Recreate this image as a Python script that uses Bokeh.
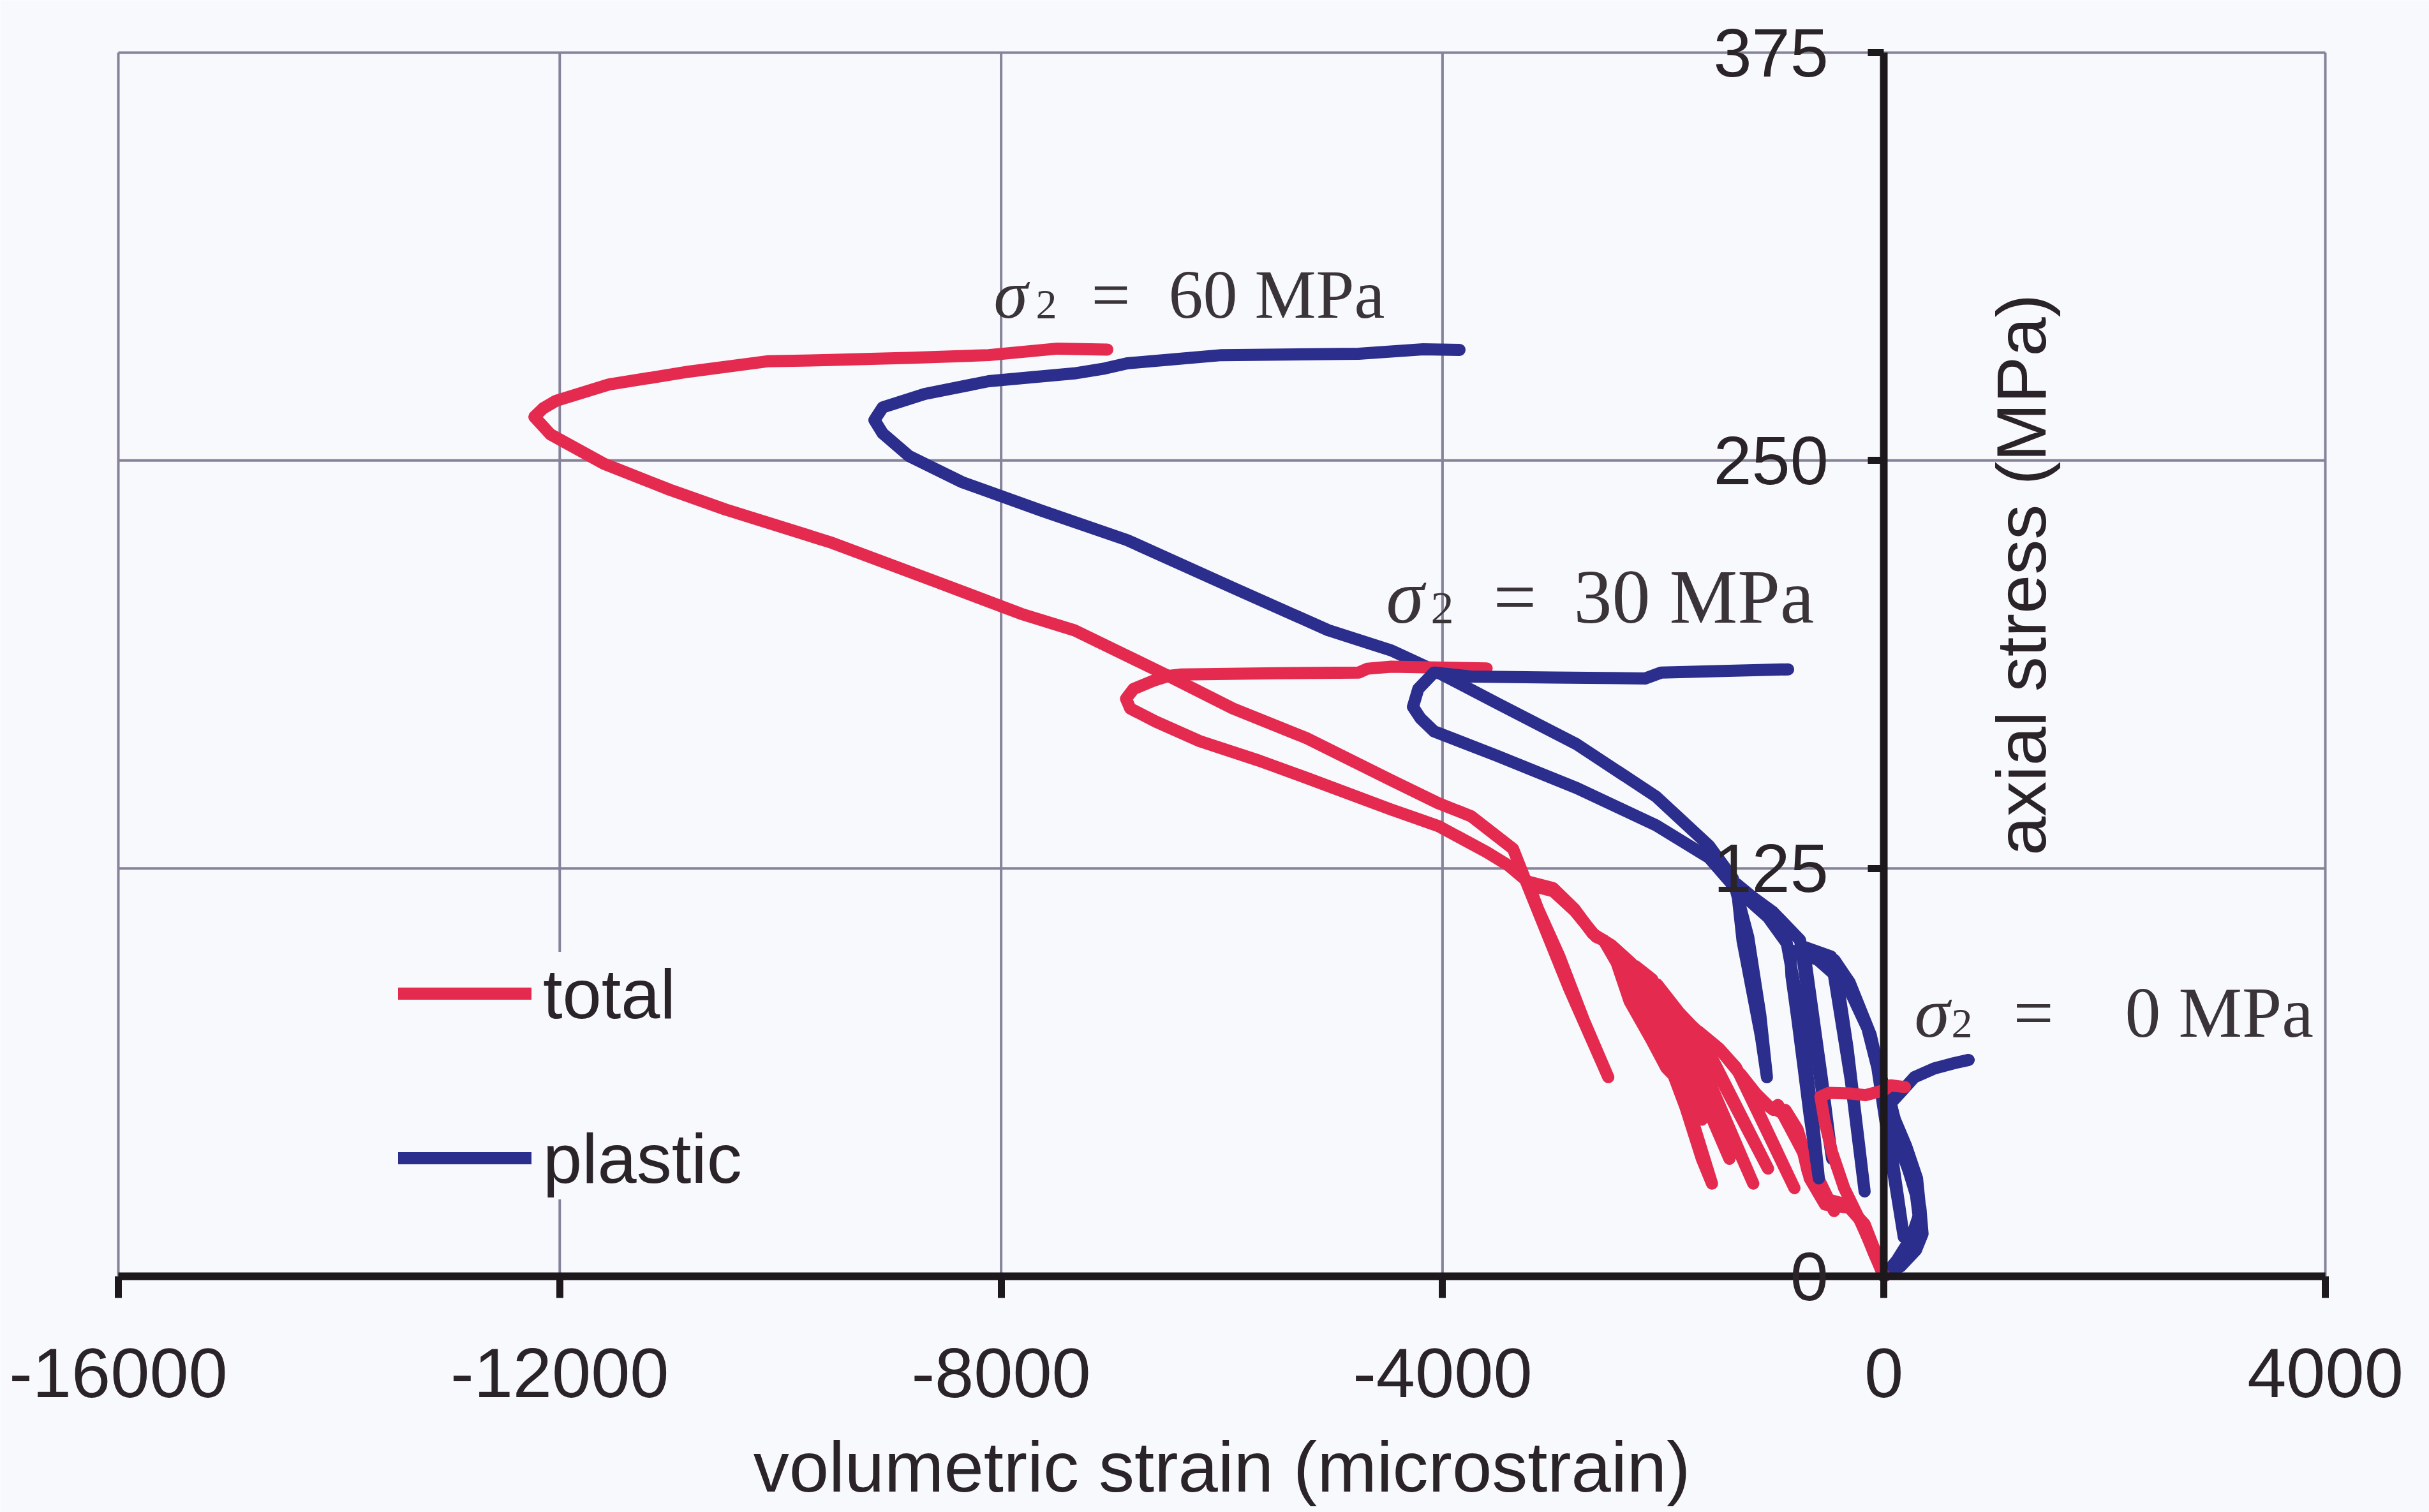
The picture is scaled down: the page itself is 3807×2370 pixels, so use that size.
from math import pi

from bokeh.plotting import figure
from bokeh.models import Range1d, FixedTicker, Label, Legend, LegendItem, LinearAxis
from bokeh.embed import file_html
from bokeh.resources import INLINE

# ---- axes ---------------------------------------------------------------
x_ticks = [-16000, -12000, -8000, -4000, 0, 4000]
x_tick_labels = ["-16000", "-12000", "-8000", "-4000", "0", "4000"]
y_ticks = [0, 125, 250, 375]
y_tick_labels = ["0", "125", "250", "375"]

x_title = "volumetric strain (microstrain)"
y_title = "axial stress (MPa)"

# ---- total volumetric strain, sigma2 = 60 MPa ---------------------------
total_60_x = [0, -60, -175, -313, -534, -673, -728, -783, -894,
              -451, -960,
              -1004, -1115, -1281, -1475, -1650, -1834,
              -1184, -1880,
              -2056,
              -1400, -2090,
              -2249,
              -1650, -2280,
              -2471,
              -2305, -2111, -1973, -1834, -1700, -1558,
              -1650, -1800, -2000, -2250, -2540,
              -2609, -2803, -2996, -3218,
              -3135, -2941, -2720, -2498, -2850, -3250,
              -3361, -3742, -4040, -4465, -5238, -5900, -6485, -7338, -7818,
              -8600, -9553, -10500, -11000, -11600, -12084, -12230,
              -12150, -12034, -11554, -10837, -10120, -9553, -8800, -8113,
              -7489, -7038]
total_60_y = [0, 6, 16, 21, 22, 30, 39, 45, 51,
              20, 52.5,
              51, 54, 61, 69, 74, 79.5,
              28.4, 81.5,
              89,
              36, 90,
              94,
              48, 95,
              101,
              84.3, 72.7, 63.9, 59, 44, 28.4,
              36, 52, 70, 86, 103,
              104, 112, 118, 120,
              112.6, 98, 78.5, 61, 88, 121.5,
              131, 141, 145, 152, 165, 174, 184, 198, 203,
              213, 225, 235, 241, 249, 258, 263.4,
              266, 268.3, 273.3, 277.2, 280.4, 280.8, 281.5, 282.3,
              284.3, 284]

# ---- plastic volumetric strain, sigma2 = 60 MPa -------------------------
plastic_60_x = [0, 150, 290, 350, 330, 250, 140, 70, -40, -120, -310, -450,
                -330, -175, -300, -480,
                -728,
                -560, -470, -620, -760,
                -1004, -1198, -1337,
                -1281, -1198, -1115, -1060, -1120, -1230, -1370,
                -1586, -2065, -2782, -3505, -4078, -4465, -5037, -5899, -6858,
                -7633, -8356, -8836, -9073, -9148, -9073, -8692, -8113, -7338,
                -7061, -6858, -6003, -4760, -4176, -3846]
plastic_60_y = [0, 3, 8, 13, 21, 30, 40, 52, 62, 74, 90, 97,
                70, 26, 60, 98,
                101,
                60, 36, 70, 103,
                111.6, 116.4, 120.3,
                102.8, 88.2, 73.6, 61, 80, 104, 122,
                132, 147, 163, 175.6, 185.7, 191.8, 198, 211, 225.6,
                234.6, 243.4, 251.4, 258.3, 262.4, 266.3, 270.4, 274.3, 276.7,
                278.2, 279.8, 282.3, 282.7, 284.1, 283.9]

# ---- total volumetric strain, sigma2 = 30 MPa ---------------------------
total_30_x = [0, -90, -210, -340, -560, -690, -760, -860, -1040, -1160, -1300,
              -811, -1340,
              -1500, -1680,
              -1050, -1720,
              -1860, -2056,
              -1450, -2100,
              -2249,
              -1760, -2290,
              -2471, -2640, -2803, -3000, -3230, -3407, -3600, -4040, -4462,
              -5238, -5661, -6200, -6600, -6830, -6868, -6800, -6620, -6483,
              -6379, -5500, -4760, -4680, -4465, -3600]
total_30_y = [0, 7, 17, 22, 24, 32, 42, 49, 52, 56, 62,
              27, 64,
              70, 75,
              33, 76,
              81, 89.5,
              42, 91,
              95,
              55, 96,
              101.5, 105, 112.5, 119, 121, 126, 130, 138, 143,
              152.8, 158, 164, 170, 174, 177, 180, 182.5, 184,
              184.4, 184.8, 185, 186.2, 186.8, 186.3]

# ---- plastic volumetric strain, sigma2 = 30 MPa -------------------------
plastic_30_x = [0, 130, 270, 320, 290, 200, 110, 40, -40,
                60, 180, 70, -60,
                -150, -330, -600, -850,
                -838, -783, -728, -673, -590, -650, -760, -880,
                -1050, -1250, -1394, -1586, -2065, -2782, -3505, -4077, -4200,
                -4268, -4220, -4078, -3742, -3000, -2164, -2019, -868]
plastic_30_y = [0, 4, 10, 17, 25, 35, 45, 55, 62,
                40, 12, 35, 64,
                76, 89, 97, 100,
                92, 78.5, 64, 49.3, 30, 50, 80, 102,
                110, 116, 120.8, 128.3, 138.2, 149.6, 159.5, 167, 171,
                174.5, 180, 185, 183.8, 183.5, 183.2, 185, 186]

# ---- sigma2 = 0 MPa -----------------------------------------------------
total_0_x = [0, -110, -230, -360, -470, -540, -575, -500, -300, -168, 0, 60, 190]
total_0_y = [0, 9, 18, 27, 38, 48, 55, 56.2, 56, 55.5, 57, 58.5, 58]

plastic_0_x = [0, 120, 250, 330, 300, 200, 100, 60, 143, 276, 456, 635, 768]
plastic_0_y = [0, 5, 12, 20, 30, 40, 48, 53, 56, 61, 63.7, 65.3, 66.3]

# ---- styling ------------------------------------------------------------
BG = "#f8f9fd"
GRID = "#85829a"
AXIS = "#1d181c"
TEXT = "#2a2428"
NOTE = "#3a3438"
RED = "#e42a4f"
BLUE = "#2b2e8c"
SANS = "Liberation Sans"
SERIF = "Liberation Serif"
LW = 19

W, H = 3807, 2370
# plot box inside the page, in pixels: left, right, top, bottom
BOX_L, BOX_R, BOX_T, BOX_B = 185, 3644, 82, 2000
X0, X1 = x_ticks[0], x_ticks[-1]
Y0, Y1 = y_ticks[0], y_ticks[-1]
ux = (X1 - X0) / (BOX_R - BOX_L)
uy = (Y1 - Y0) / (BOX_B - BOX_T)

# the frame fills the page so that labels around the box are not clipped
p = figure(width=W, height=H, output_backend="svg", toolbar_location=None,
           x_range=Range1d(X0 - BOX_L * ux, X1 + (W - BOX_R) * ux),
           y_range=Range1d(Y0 - (H - BOX_B) * uy, Y1 + BOX_T * uy),
           x_axis_location=None, y_axis_location=None, min_border=0)
p.title.visible = False
p.background_fill_color = BG
p.border_fill_color = BG
p.outline_line_color = None
p.xgrid.visible = False
p.ygrid.visible = False

# grid lines limited to the plot box
p.segment(x0=x_ticks, y0=[Y0] * len(x_ticks), x1=x_ticks, y1=[Y1] * len(x_ticks),
          line_color=GRID, line_width=4)
p.segment(x0=[X0] * len(y_ticks), y0=y_ticks, x1=[X1] * len(y_ticks), y1=y_ticks,
          line_color=GRID, line_width=4)

# horizontal axis at zero stress
xa = LinearAxis(fixed_location=0, bounds=(X0, X1), ticker=FixedTicker(ticks=x_ticks))
xa.major_label_overrides = dict(zip(x_ticks, x_tick_labels))
xa.axis_line_color = AXIS
xa.axis_line_width = 12
xa.major_tick_line_color = AXIS
xa.major_tick_line_width = 11
xa.major_tick_out = 34
xa.major_tick_in = 0
xa.minor_tick_line_color = None
xa.major_label_standoff = 79
xa.major_label_text_font = SANS
xa.major_label_text_font_size = "110px"
xa.major_label_text_color = TEXT
p.add_layout(xa, "below")

p.add_layout(Label(x=(X0 + X1) / 2, y=-58.5, text=x_title, text_align="center",
                   text_baseline="alphabetic", text_font=SANS,
                   text_font_size="112px", text_color=TEXT))

# vertical axis at zero strain
ya = LinearAxis(fixed_location=0, bounds=(Y0, Y1), ticker=FixedTicker(ticks=y_ticks))
ya.axis_line_color = AXIS
ya.axis_line_width = 12
ya.major_tick_line_color = AXIS
ya.major_tick_line_width = 11
ya.major_tick_out = 25
ya.major_tick_in = 0
ya.minor_tick_line_color = None
ya.major_label_text_color = None
p.add_layout(ya, "left")

for v, lbl in zip(y_ticks, y_tick_labels):
    p.add_layout(Label(x=0, y=v, x_offset=-87, text=lbl, text_align="right",
                       text_baseline="middle", text_font=SANS,
                       text_font_size="108px", text_color=TEXT))

p.add_layout(Label(x=0, y=215, x_offset=215, text=y_title, angle=pi / 2,
                   text_align="center", text_baseline="alphabetic",
                   text_font=SANS, text_font_size="110px", text_color=TEXT))

# ---- curves ---------------------------------------------------------------
def curve(xs, ys, color):
    return p.line(xs, ys, line_color=color, line_width=LW,
                  line_join="round", line_cap="round")

r_total = curve(total_60_x, total_60_y, RED)
r_plastic = curve(plastic_60_x, plastic_60_y, BLUE)
curve(total_30_x, total_30_y, RED)
curve(plastic_30_x, plastic_30_y, BLUE)
curve(plastic_0_x, plastic_0_y, BLUE)
curve(total_0_x, total_0_y, RED)

# ---- confining pressure notes --------------------------------------------
notes = [
    # sigma x, baseline y, subscript x, subscript y, "=" x, value x, value, size, sub size
    (-8067, 300.9, -7685, 297.7, -7182, -6483, "60 MPa", 108, 66),
    (-4511, 208.2, -4106, 204.7, -3540, -2811, "30 MPa", 120, 72),
    (276, 80.9, 612, 77.4, 1173, 2184, "0 MPa", 112, 66),
]
for sx, sy, bx, by, ex, vx, txt, fs, ss in notes:
    common = dict(text_baseline="alphabetic", text_align="left",
                  text_font=SERIF, text_color=NOTE)
    p.add_layout(Label(x=sx, y=sy, text="σ", text_font_style="italic",
                       text_font_size=f"{fs}px", **common))
    p.add_layout(Label(x=bx, y=by, text="2", text_font_size=f"{ss}px", **common))
    p.add_layout(Label(x=ex, y=sy, text="=", text_font_size=f"{fs}px", **common))
    p.add_layout(Label(x=vx, y=sy, text=txt, text_font_size=f"{fs}px", **common))

# ---- legend ----------------------------------------------------------------
legend = Legend(items=[LegendItem(label="total", renderers=[r_total]),
                       LegendItem(label="plastic", renderers=[r_plastic])],
                location=(439 + BOX_L, 120 + (H - BOX_B)), orientation="vertical",
                glyph_width=209, glyph_height=130, label_height=130,
                label_standoff=18, spacing=128, padding=70, margin=0,
                label_text_font=SANS, label_text_font_size="110px",
                label_text_color=TEXT, border_line_color=None,
                background_fill_color=BG, background_fill_alpha=1.0)
p.add_layout(legend)

open("out.html", "w").write(file_html(p, INLINE))
